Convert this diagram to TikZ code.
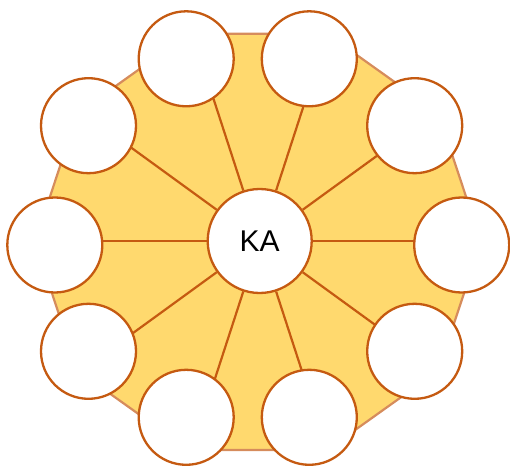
\documentclass[tikz,border=0pt]{standalone}
\usepackage{fontspec}
\setmainfont{Liberation Sans}
\usetikzlibrary{calc,backgrounds}
\definecolor{rim}{RGB}{197,90,17}
\definecolor{polyline}{RGB}{214,140,92}
\definecolor{gold}{RGB}{255,217,110}
\tikzset{
  hub/.style={circle, draw=rim, line width=2.3pt, fill=white, minimum size=104pt, inner sep=0pt, font=\fontsize{30}{34}\selectfont},
  petal/.style={circle, draw=rim, line width=2.3pt, fill=white, minimum size=95pt, inner sep=0pt},
  spoke/.style={draw=rim, line width=2.2pt},
  deca/.style={draw=polyline, line width=2.2pt, fill=gold, line join=miter}
}
\begin{document}
\begin{tikzpicture}[x=1pt,y=1pt]
\useasboundingbox (0,0) rectangle (510,466);
\node[hub] (c) at (259.7,225) {\raisebox{-1pt}{KA}};
\node[petal] (o1) at (186.2,407.2) {};
\node[petal] (o2) at (309.3,407.2) {};
\node[petal] (o3) at (88.5,340.3) {};
\node[petal] (o4) at (414.7,340.3) {};
\node[petal] (o5) at (54.8,221) {};
\node[petal] (o6) at (461.7,221) {};
\node[petal] (o7) at (88.5,114.7) {};
\node[petal] (o8) at (414.7,114.7) {};
\node[petal] (o9) at (186.2,48.7) {};
\node[petal] (o10) at (309.3,48.7) {};
\begin{scope}[on background layer]
  \coordinate (dc) at (258,224.1);
  \draw[deca] ($(dc)+(223,0)$)
    \foreach \a in {36,72,...,324} { -- ($(dc)+({223*cos(\a)},{218.9*sin(\a)})$) } -- cycle;
  \foreach \a in {0,36,...,324} {
    \coordinate (s\a) at ($(c.center)+(\a:188pt)$);
    \draw[spoke] (c.\a) -- (s\a);
  }
\end{scope}
\end{tikzpicture}
\end{document}
